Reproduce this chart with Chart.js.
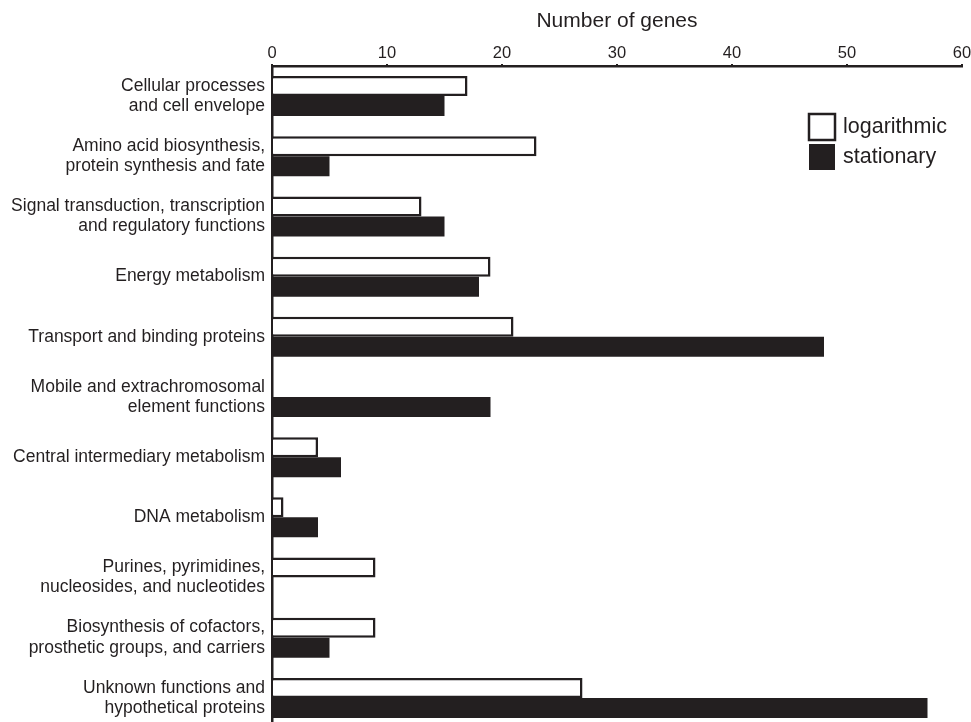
<!DOCTYPE html>
<html>
<head>
<meta charset="utf-8">
<script src="https://cdn.jsdelivr.net/npm/chart.js@4.4.1/dist/chart.umd.min.js"></script>
<style>
  html, body { margin: 0; padding: 0; background: #fff; overflow: hidden; }
  #wrap { width: 971px; height: 728px; }
</style>
</head>
<body>
<div id="wrap"><canvas id="genes"></canvas></div>
<script>
// categories (multi-line labels as in the figure)
var categories = [
  ["Cellular processes", "and cell envelope"],
  ["Amino acid biosynthesis,", "protein synthesis and fate"],
  ["Signal transduction, transcription", "and regulatory functions"],
  "Energy metabolism",
  "Transport and binding proteins",
  ["Mobile and extrachromosomal", "element functions"],
  "Central intermediary metabolism",
  "DNA metabolism",
  ["Purines, pyrimidines,", "nucleosides, and nucleotides"],
  ["Biosynthesis of cofactors,", "prosthetic groups, and carriers"],
  ["Unknown functions and", "hypothetical proteins"]
];
var logarithmic = [17, 23, 13, 19, 21, 0, 4, 1, 9, 9, 27];
var stationary  = [15, 5, 15, 18, 48, 19, 6, 4, 0, 5, 57];
var xTicks = [0, 10, 20, 30, 40, 50, 60];

var ink = "#231f20";
var fontFam = "'Liberation Sans', Arial, Helvetica, sans-serif";

// legend drawn inside the plot like the original
var boxLegend = {
  id: "boxLegend",
  afterDraw: function(chart) {
    var ctx = chart.ctx;
    var x = 809, y = 114, s = 26, gap = 3;
    ctx.save();
    ctx.font = "21.5px " + fontFam;
    ctx.textBaseline = "middle";
    chart.data.datasets.forEach(function(ds, i) {
      var top = y + i * (s + gap + 1);
      ctx.fillStyle = ds.backgroundColor;
      ctx.fillRect(x, top, s, s);
      if (ds.borderWidth) {
        ctx.lineWidth = 2.5;
        ctx.strokeStyle = ink;
        ctx.strokeRect(x, top, s, s);
      }
      ctx.fillStyle = ink;
      ctx.fillText(ds.label, x + s + 8, top + s / 2);
    });
    ctx.restore();
  }
};

var ctx = document.getElementById("genes");
var myChart = new Chart(ctx, {
  type: "bar",
  data: {
    labels: categories,
    datasets: [{
      label: "logarithmic",
      data: logarithmic,
      backgroundColor: "#ffffff",
      borderColor: ink,
      borderWidth: 2.5,
      borderSkipped: "start"
    }, {
      label: "stationary",
      data: stationary,
      backgroundColor: ink,
      borderWidth: 0
    }]
  },
  options: {
    indexAxis: "y",
    responsive: true,
    maintainAspectRatio: false,
    animation: false,
    layout: { padding: { right: 9, left: 0, top: 0, bottom: 0 } },
    datasets: { bar: { categoryPercentage: 0.665, barPercentage: 1 } },
    plugins: {
      legend: { display: false },
      tooltip: { enabled: false }
    },
    scales: {
      x: {
        position: "top",
        min: 0,
        max: 60,
        afterBuildTicks: function(scale) {
          scale.ticks = xTicks.map(function(v) { return { value: v }; });
        },
        afterFit: function(scale) {
          scale.height = 66;
          scale.paddingLeft = 0;
          scale.paddingRight = 0;
        },
        grid: { display: true, drawOnChartArea: false, drawTicks: true, tickLength: 2, color: ink, lineWidth: 2 },
        border: { display: true, color: ink, width: 2.5 },
        ticks: { color: ink, font: { family: fontFam, size: 16.5 }, padding: 1, maxRotation: 0 },
        title: {
          display: true,
          text: "Number of genes",
          color: ink,
          font: { family: fontFam, size: 21 },
          padding: { top: 9, bottom: 2 }
        }
      },
      y: {
        afterFit: function(scale) {
          scale.width = 272;
          scale.paddingTop = 0;
          scale.paddingBottom = 0;
        },
        grid: { display: false, drawTicks: false },
        border: { display: true, color: ink, width: 2.5 },
        ticks: { color: ink, font: { family: fontFam, size: 17.5, lineHeight: 1.15 }, padding: 7, autoSkip: false }
      }
    }
  },
  plugins: [boxLegend]
});
</script>
</body>
</html>
